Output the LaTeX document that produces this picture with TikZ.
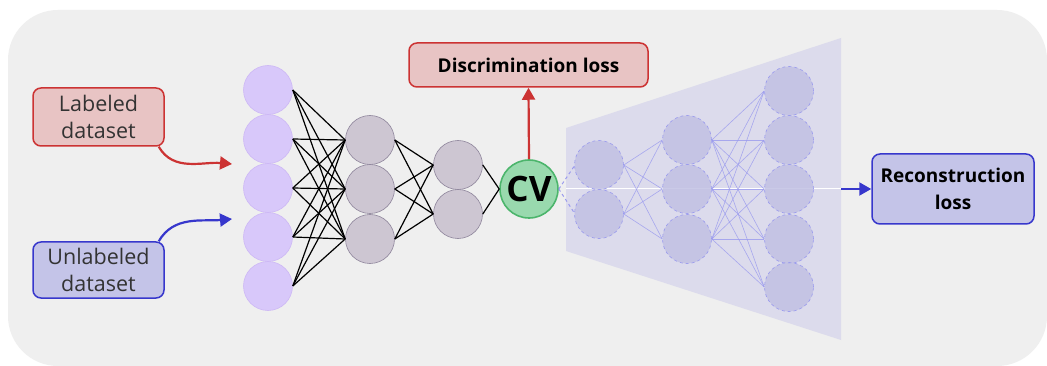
\documentclass[tikz,border=0pt]{standalone}
\usepackage{fontspec}
\setmainfont{Open Sans}
\usetikzlibrary{arrows.meta}
\definecolor{bggray}{HTML}{EFEFEF}
\definecolor{inpfill}{HTML}{D8C8FA}
\definecolor{inpdraw}{HTML}{CDB8F5}
\definecolor{hidfill}{HTML}{CDC6D2}
\definecolor{hiddraw}{HTML}{8F869C}
\definecolor{cvfill}{HTML}{99D9AE}
\definecolor{cvdraw}{HTML}{4CB56C}
\definecolor{redb}{HTML}{CC3333}
\definecolor{redf}{HTML}{E8C4C4}
\definecolor{blueb}{HTML}{3737CC}
\definecolor{bluef}{HTML}{C4C4E8}
\definecolor{trapfill}{HTML}{DCDBEC}
\definecolor{decfill}{HTML}{C1C1E3}
\definecolor{decdraw}{HTML}{9A9AEE}
\definecolor{txtgray}{HTML}{333333}
\tikzset{
  neuron/.style={circle,minimum size=49pt,inner sep=0pt},
  inp/.style={neuron,fill=inpfill,draw=inpdraw,line width=0.6pt},
  hid/.style={neuron,fill=hidfill,draw=hiddraw,line width=0.6pt},
  dec/.style={neuron,fill=decfill,fill opacity=0.85,draw=decdraw,dashed,line width=0.6pt},
  cvnode/.style={circle,minimum size=58pt,inner sep=0pt,fill=cvfill,draw=cvdraw,line width=1.6pt,font=\fontsize{35}{38}\selectfont\bfseries},
  conn/.style={black,line width=1.2pt},
  dconn/.style={decdraw,line width=0.6pt,opacity=0.8},
  redbox/.style={draw=redb,fill=redf,line width=1.5pt,rounded corners=8pt,align=center,inner sep=0pt},
  bluebox/.style={draw=blueb,fill=bluef,line width=1.5pt,rounded corners=8pt,align=center,inner sep=0pt},
  redarrow/.style={redb,line width=2.2pt,-{Triangle[length=12pt,width=13pt]}},
  bluearrow/.style={blueb,line width=2.2pt,-{Triangle[length=12pt,width=13pt]}},
}
\begin{document}
\begin{tikzpicture}[x=1pt,y=-1pt]
\useasboundingbox (0,0) rectangle (1047,366);
\fill[white] (0,0) rectangle (1047,366);
\fill[bggray,rounded corners=50pt] (8,10) rectangle (1047,366);
% decoder trapezoid
\fill[trapfill] (566,128) -- (841,38) -- (841,340) -- (566,251) -- cycle;
% input layer
\foreach \i/\y in {1/90,2/139,3/188,4/237,5/286} \node[inp] (i\i) at (268,\y) {};
\foreach \i/\y in {1/140,2/189,3/239} \node[hid] (h\i) at (370,\y) {};
\foreach \i/\y in {1/165,2/214} \node[hid] (g\i) at (458,\y) {};
\node[cvnode] (cv) at (529,189) {CV};
\foreach \a in {1,...,5} \foreach \b in {1,2,3} \draw[conn] (i\a.east) -- (h\b.west);
\foreach \a in {1,2,3} \foreach \b in {1,2} \draw[conn] (h\a.east) -- (g\b.west);
\foreach \a in {1,2} \draw[conn] (g\a.east) -- (cv.west);
% decoder connections
\coordinate (w1) at (566,189);
\coordinate (w2) at (841,189);
\foreach \y/\n in {165/1,214/2} \coordinate (dw\n) at (575,\y);
\draw[decdraw,dashed,line width=1pt] (cv.east) -- (dw1);
\draw[decdraw,dashed,line width=1pt] (cv.east) -- (dw2);
\draw[white,line width=1pt] (w1) -- (w2);
\foreach \i/\y in {1/165,2/214} \node[dec] (d\i) at (599,\y) {};
\foreach \i/\y in {1/140,2/189,3/239} \node[dec] (e\i) at (687,\y) {};
\foreach \i/\y in {1/91,2/140,3/189,4/239,5/287} \node[dec] (f\i) at (789,\y) {};
\foreach \a in {1,2} \foreach \b in {1,2,3} \draw[dconn] (d\a.east) -- (e\b.west);
\foreach \a in {1,2,3} \foreach \b in {1,...,5} \draw[dconn] (e\a.east) -- (f\b.west);
% boxes
\node[redbox,minimum width=131pt,minimum height=58pt,text=txtgray,font=\fontsize{21.5}{27}\selectfont] (lab) at (98.5,117) {Labeled\\dataset};
\node[bluebox,minimum width=131pt,minimum height=56pt,text=txtgray,font=\fontsize{21.5}{27}\selectfont] (unlab) at (98.5,270) {Unlabeled\\dataset};
\node[redbox,minimum width=239pt,minimum height=44pt,font=\fontsize{19}{22}\selectfont\bfseries] (disc) at (528.5,65) {Discrimination loss};
\node[bluebox,minimum width=162pt,minimum height=70pt,font=\fontsize{19}{27}\selectfont\bfseries] (rec) at (953,189) {Reconstruction\\loss};
% arrows
\coordinate (labin) at (232,164);
\coordinate (unlabin) at (232,219);
\draw[redarrow] ([xshift=-6pt]lab.south east) to[out=-60,in=175] (labin);
\draw[bluearrow] ([xshift=-6pt]unlab.north east) to[out=60,in=185] (unlabin);
\draw[redarrow] (cv.north) -- (disc.south);
\draw[bluearrow] (w2) -- (rec.west);
\end{tikzpicture}
\end{document}
